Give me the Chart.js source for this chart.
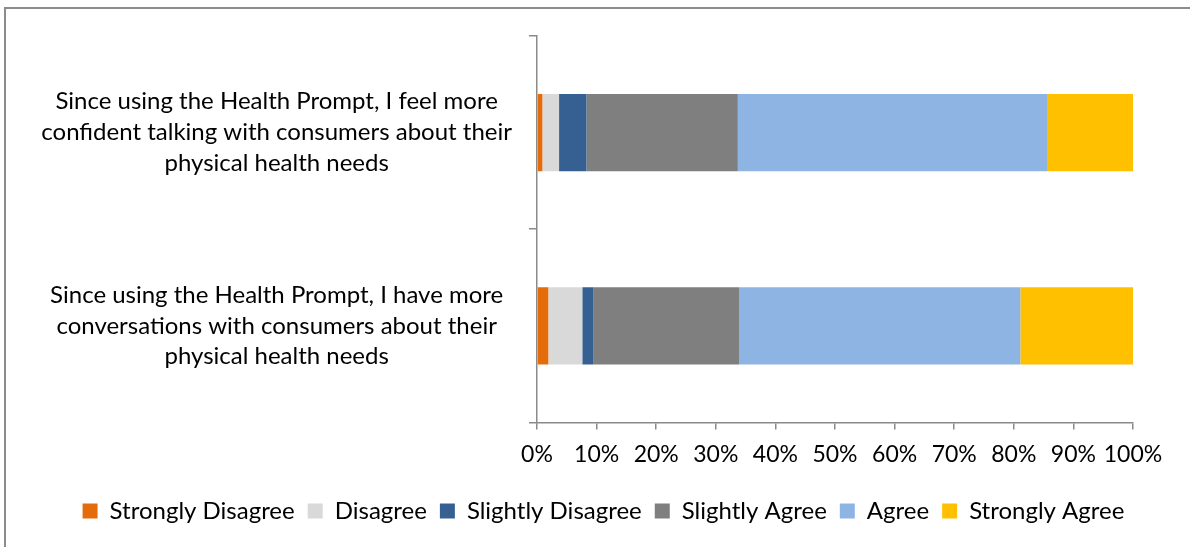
<!DOCTYPE html>
<html>
<head>
<meta charset="utf-8">
<script src="https://cdn.jsdelivr.net/npm/chart.js@4.4.1/dist/chart.umd.min.js"></script>
<style>
  html, body { margin: 0; padding: 0; background: #fff; overflow: hidden; }
  #frame { position: absolute; left: 4px; top: 7px; width: 1200px; height: 600px; border-left: 2px solid #8c8c8c; border-top: 2px solid #8c8c8c; }
  #surveyChart { position: absolute; left: 0; top: 0; }
</style>
</head>
<body>
<div id="frame"></div>
<canvas id="surveyChart" width="1190" height="547"></canvas>
<script>
const statements = [
  ['Since using the Health Prompt, I feel more', 'confident talking with consumers about their', 'physical health needs'],
  ['Since using the Health Prompt, I have more', 'conversations with consumers about their', 'physical health needs']
];
const responses = ['Strongly Disagree', 'Disagree', 'Slightly Disagree', 'Slightly Agree', 'Agree', 'Strongly Agree'];
const responseColors = ['#E46C0A', '#D9D9D9', '#376092', '#7F7F7F', '#8EB4E3', '#FFC000'];

// percent of answers, one array per response, in statement order
const stronglyDisagree = [0.9, 1.9];
const disagree = [2.8, 5.7];
const slightlyDisagree = [4.6, 1.9];
const slightlyAgree = [25.4, 24.4];
const agree = [52.0, 47.2];
const stronglyAgree = [14.3, 18.9];
const percentTicks = [0, 10, 20, 30, 40, 50, 60, 70, 80, 90, 100];

const seriesValues = [stronglyDisagree, disagree, slightlyDisagree, slightlyAgree, agree, stronglyAgree];
const axisGray = '#8a8a8a';

// legend sits a bit right of the plot centre in the original
const nudgeLegend = {
  id: 'nudgeLegend',
  afterLayout(chart) {
    chart.legend.left += 29;
    chart.legend.right += 29;
  }
};

const ctx = document.getElementById('surveyChart').getContext('2d');

const surveyChart = new Chart(ctx, {
  type: 'bar',
  data: {
    labels: statements,
    datasets: responses.map((name, i) => ({
      label: name,
      data: seriesValues[i],
      backgroundColor: responseColors[i],
      borderWidth: 0,
      barPercentage: 0.4,
      categoryPercentage: 1.0
    }))
  },
  options: {
    indexAxis: 'y',
    responsive: false,
    animation: false,
    layout: {
      padding: { left: 16, right: 57, top: 36, bottom: 14 }
    },
    scales: {
      x: {
        stacked: true,
        min: 0,
        max: 100,
        afterBuildTicks: function (scale) {
          scale.ticks = percentTicks.map(v => ({ value: v }));
        },
        afterFit: function (scale) {
          scale.height += 7;
        },
        ticks: {
          callback: v => v + '%',
          color: '#000',
          padding: 11,
          autoSkip: false,
          maxRotation: 0,
          font: { family: 'Lato', size: 23 }
        },
        grid: {
          drawOnChartArea: false,
          tickLength: 7,
          color: axisGray,
          lineWidth: 1.5
        },
        border: { color: axisGray, width: 1.5 }
      },
      y: {
        stacked: true,
        afterFit: function (scale) {
          scale.width = 521;
          scale.paddingTop = 0;
          scale.paddingBottom = 0;
        },
        ticks: {
          color: '#000',
          crossAlign: 'center',
          padding: 17,
          font: { family: 'Lato', size: 24, lineHeight: 1.29 }
        },
        grid: {
          drawOnChartArea: false,
          tickLength: 8,
          color: axisGray,
          lineWidth: 1.5
        },
        border: { color: axisGray, width: 1.5 }
      }
    },
    plugins: {
      legend: {
        position: 'bottom',
        labels: {
          boxWidth: 15,
          boxHeight: 15,
          padding: 13,
          color: '#000',
          font: { family: 'Lato', size: 24 }
        }
      },
      tooltip: { enabled: false }
    }
  },
  plugins: [nudgeLegend]
});
</script>
</body>
</html>
